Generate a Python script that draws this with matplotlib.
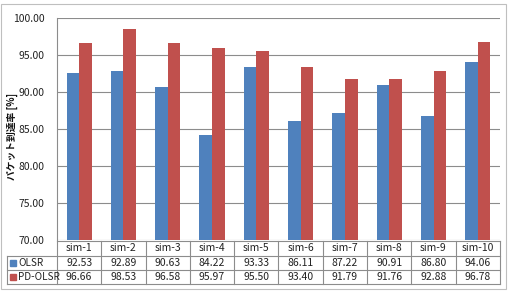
import matplotlib
matplotlib.use("Agg")
import matplotlib.pyplot as plt
from matplotlib.patches import Rectangle
from matplotlib.lines import Line2D
import numpy as np

plt.rcParams['font.family'] = ['Noto Sans CJK JP', 'DejaVu Sans']

categories = ["sim-1", "sim-2", "sim-3", "sim-4", "sim-5", "sim-6", "sim-7", "sim-8", "sim-9", "sim-10"]
olsr = [92.53, 92.89, 90.63, 84.22, 93.33, 86.11, 87.22, 90.91, 86.80, 94.06]
pd_olsr = [96.66, 98.53, 96.58, 95.97, 95.50, 93.40, 91.79, 91.76, 92.88, 96.78]
series_names = ["OLSR", "PD-OLSR"]
colors = ["#4F81BD", "#C0504D"]
yticks = [70, 75, 80, 85, 90, 95, 100]

W, H = 510, 291
fig = plt.figure(figsize=(W / 100, H / 100), dpi=100)

def fx(px):
    return px / W

def fy(py):
    return 1 - py / H

FS = 7.5
TC = "#222222"
L, R, T, B = 57, 500, 18, 240
ax = fig.add_axes([fx(L), fy(B), fx(R - L), (B - T) / H])

x = np.arange(len(categories))
bw = 0.285
ax.bar(x - bw / 2, olsr, bw, color=colors[0], zorder=3)
ax.bar(x + bw / 2, pd_olsr, bw, color=colors[1], zorder=3)
ax.set_xlim(-0.5, len(categories) - 0.5)
ax.set_ylim(70, 100)
ax.set_yticks(yticks)
ax.set_yticklabels([f"{v:.2f}" for v in yticks], fontsize=FS, color=TC)
ax.set_xticks([])
ax.tick_params(axis='y', length=0, pad=9)
ax.grid(axis='y', color="#8c8c8c", linewidth=0.8, zorder=0)
for s in ["top", "right", "bottom"]:
    ax.spines[s].set_visible(False)
ax.spines["left"].set_color("#8c8c8c")
ax.spines["left"].set_linewidth(0.8)
fig.text(fx(12), fy(136), "パケット到達率 [%]", rotation=90, ha="center", va="center",
         fontsize=7, fontweight="bold", color="#111111")

# table
rows_y = [241, 255.5, 269.5, 283.5]
tl = 7
lc = "#8c8c8c"
lines = []
cw = (R - L) / len(categories)
lines.append(([L, R], [rows_y[0], rows_y[0]]))
for yy in rows_y[1:]:
    lines.append(([tl, R], [yy, yy]))
for i in range(len(categories) + 1):
    xx = L + i * cw
    lines.append(([xx, xx], [rows_y[0], rows_y[3]]))
lines.append(([tl, tl], [rows_y[1], rows_y[3]]))
for xs, ys in lines:
    fig.add_artist(Line2D([fx(v) for v in xs], [fy(v) for v in ys], color=lc, linewidth=0.8))

for i, c in enumerate(categories):
    cx = L + (i + 0.5) * cw
    fig.text(fx(cx), fy((rows_y[0] + rows_y[1]) / 2), c, ha="center", va="center", fontsize=FS, color=TC)
    for r, vals in enumerate([olsr, pd_olsr]):
        fig.text(fx(cx), fy((rows_y[r + 1] + rows_y[r + 2]) / 2), f"{vals[i]:.2f}",
                 ha="center", va="center", fontsize=FS, color=TC)

for r, name in enumerate(series_names):
    cy = (rows_y[r + 1] + rows_y[r + 2]) / 2
    fig.add_artist(Rectangle((fx(tl + 3), fy(cy + 3)), fx(6), 6 / H, color=colors[r]))
    fig.text(fx(tl + 11), fy(cy), name, ha="left", va="center", fontsize=FS - 0.3, color=TC)

fig.add_artist(Rectangle((fx(1), fy(289)), fx(505), 285 / H, fill=False, edgecolor="#bfbfbf", linewidth=0.8))

fig.savefig("out.png", dpi=100)
